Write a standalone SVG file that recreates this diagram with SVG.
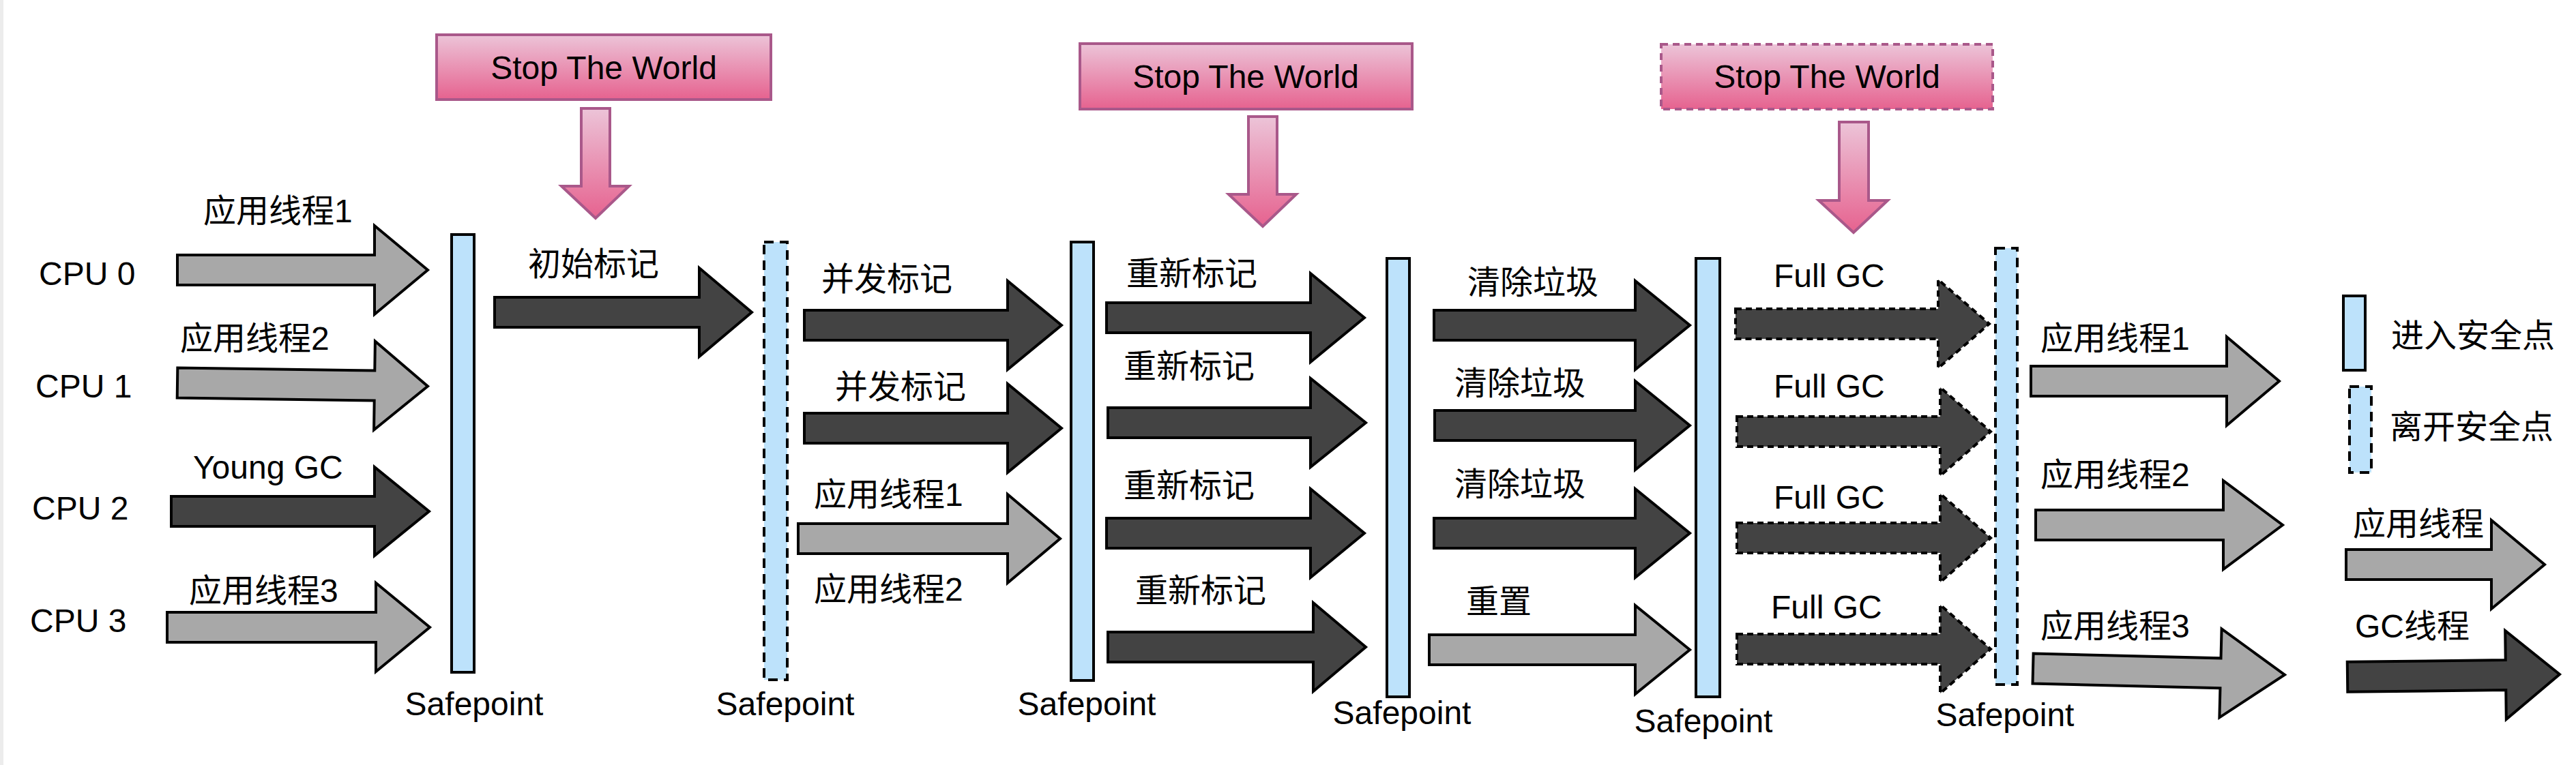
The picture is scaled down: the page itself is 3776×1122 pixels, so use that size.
<svg xmlns="http://www.w3.org/2000/svg" width="3776" height="1122" viewBox="0 0 3776 1122">
<defs>
<linearGradient id="pink" x1="0" y1="0" x2="0" y2="1">
<stop offset="0" stop-color="#ecc4d8"/>
<stop offset="1" stop-color="#e6628f"/>
</linearGradient>
<style>
.t{font-family:"Liberation Sans","Noto Sans CJK SC",sans-serif;font-size:48px;fill:#000}
.c{text-anchor:middle}
.stw{fill:url(#pink);stroke:#a9588a;stroke-width:4}
.dot{stroke-dasharray:10 7}
.g{fill:#a8a8a8;stroke:#000;stroke-width:4;stroke-linejoin:miter}
.d{fill:#434343;stroke:#000;stroke-width:4;stroke-linejoin:miter}
.ds{stroke-dasharray:9 6}
.bar{fill:#bde2fb;stroke:#000;stroke-width:4}
.bd{stroke-dasharray:14 9}
</style>
</defs>
<rect x="0" y="0" width="3776" height="1122" fill="#fff"/>
<rect x="0" y="0" width="5" height="1122" fill="#ececec"/>

<g id="stw1"><rect class="stw" x="640" y="51" width="490" height="95"/><text class="t c" x="885" y="116">Stop The World</text></g>
<g id="stw2"><rect class="stw" x="1583" y="64" width="487" height="96"/><text class="t c" x="1826" y="129">Stop The World</text></g>
<g id="stw3"><rect class="stw dot" x="2435" y="65" width="486" height="95"/><text class="t c" x="2678" y="129">Stop The World</text></g>

<g id="cpu-labels">
<text class="t" x="57" y="418">CPU 0</text>
<text class="t" x="52" y="583">CPU 1</text>
<text class="t" x="47" y="762">CPU 2</text>
<text class="t" x="44" y="927">CPU 3</text>
</g>

<g id="safepoints">
<g id="sp1"><rect class="bar" x="662" y="344" width="33" height="642"/><text class="t c" x="695" y="1049">Safepoint</text></g>
<g id="sp2"><rect class="bar bd" x="1120" y="355" width="34" height="642"/><text class="t c" x="1151" y="1049">Safepoint</text></g>
<g id="sp3"><rect class="bar" x="1570" y="355" width="33" height="643"/><text class="t c" x="1593" y="1049">Safepoint</text></g>
<g id="sp4"><rect class="bar" x="2033" y="379" width="33" height="643"/><text class="t c" x="2055" y="1062">Safepoint</text></g>
<g id="sp5"><rect class="bar" x="2486" y="379" width="35" height="643"/><text class="t c" x="2497" y="1074">Safepoint</text></g>
<g id="sp6"><rect class="bar bd" x="2925" y="364" width="32" height="640"/><text class="t c" x="2939" y="1065">Safepoint</text></g>
</g>

<g id="connectors">
<path class="stw" d="M852,159 H894 V273 H922 L873,320 L823,273 H852 Z"/>
<path class="stw" d="M1830,171 H1872 V285 H1900 L1851,332 L1801,285 H1830 Z"/>
<path class="stw" d="M2696,179 H2739 V294 H2767 L2717,341 L2666,294 H2696 Z"/>

<path class="g" d="M260,374 H549 V331 L627,396 L549,461 V418 H260 Z"/>
<path class="d" d="M725,436 H1025 V393 L1102,458 L1025,523 V480 H725 Z"/>
<path class="g" transform="rotate(0.8 443 564)" d="M260,542 H549 V499 L627,564 L549,629 V586 H260 Z"/>
<path class="d" d="M251,728 H549 V685 L629,750 L549,815 V772 H251 Z"/>
<path class="g" d="M245,898 H551 V855 L630,920 L551,985 V942 H245 Z"/>

<path class="d" d="M1179,455 H1477 V412 L1556,477 L1477,542 V499 H1179 Z"/>
<path class="d" d="M1179,606 H1477 V563 L1556,628 L1477,693 V650 H1179 Z"/>
<path class="g" d="M1170,768 H1477 V725 L1554,790 L1477,855 V812 H1170 Z"/>

<path class="d" d="M1622,444 H1921 V401 L2000,466 L1921,531 V488 H1622 Z"/>
<path class="d" d="M1624,598 H1921 V555 L2002,620 L1921,685 V642 H1624 Z"/>
<path class="d" d="M1622,760 H1921 V717 L2000,782 L1921,847 V804 H1622 Z"/>
<path class="d" d="M1624,927 H1925 V884 L2002,949 L1925,1014 V971 H1624 Z"/>

<path class="d" d="M2102,455 H2397 V412 L2477,477 L2397,542 V499 H2102 Z"/>
<path class="d" d="M2103,602 H2397 V559 L2477,624 L2397,689 V646 H2103 Z"/>
<path class="d" d="M2102,760 H2397 V717 L2477,782 L2397,847 V804 H2102 Z"/>
<path class="g" d="M2095,931 H2397 V888 L2477,953 L2397,1018 V975 H2095 Z"/>

<path class="d ds" d="M2544,453 H2841 V410 L2916,475 L2841,540 V497 H2544 Z"/>
<path class="d ds" d="M2546,611 H2844 V568 L2918,633 L2844,698 V655 H2546 Z"/>
<path class="d ds" d="M2546,767 H2844 V724 L2918,789 L2844,854 V811 H2546 Z"/>
<path class="d ds" d="M2546,930 H2844 V887 L2918,952 L2844,1017 V974 H2546 Z"/>

<path class="g" d="M2977,537 H3264 V494 L3341,559 L3264,624 V581 H2977 Z"/>
<path class="g" d="M2984,748 H3259 V705 L3346,770 L3259,835 V792 H2984 Z"/>
<path class="g" transform="rotate(1.4 3160 985)" d="M2980,963 H3255 V920 L3349,985 L3255,1050 V1007 H2980 Z"/>
</g>

<g id="labels">
<text class="t" x="298" y="326">应用线程1</text>
<text class="t" x="264" y="513">应用线程2</text>
<text class="t" x="283" y="702">Young GC</text>
<text class="t" x="277" y="883">应用线程3</text>
<text class="t" x="774" y="404">初始标记</text>
<text class="t" x="1204" y="426">并发标记</text>
<text class="t" x="1224" y="584">并发标记</text>
<text class="t" x="1193" y="742">应用线程1</text>
<text class="t" x="1193" y="881">应用线程2</text>
<text class="t" x="1651" y="418">重新标记</text>
<text class="t" x="1647" y="554">重新标记</text>
<text class="t" x="1647" y="729">重新标记</text>
<text class="t" x="1664" y="883">重新标记</text>
<text class="t" x="2151" y="431">清除垃圾</text>
<text class="t" x="2132" y="579">清除垃圾</text>
<text class="t" x="2132" y="727">清除垃圾</text>
<text class="t" x="2149" y="899">重置</text>
<text class="t" x="2600" y="421">Full GC</text>
<text class="t" x="2600" y="583">Full GC</text>
<text class="t" x="2600" y="746">Full GC</text>
<text class="t" x="2596" y="907">Full GC</text>
<text class="t" x="2991" y="513">应用线程1</text>
<text class="t" x="2991" y="713">应用线程2</text>
<text class="t" x="2991" y="935">应用线程3</text>
</g>

<g id="legend">
<g id="leg-enter"><rect class="bar" x="3435" y="434" width="32" height="109"/><text class="t" x="3505" y="509">进入安全点</text></g>
<g id="leg-leave"><rect class="bar bd" x="3444" y="567" width="32" height="126"/><text class="t" x="3503" y="643">离开安全点</text></g>
<g id="leg-app"><path class="g" d="M3439,806 H3652 V763 L3730,828 L3652,893 V850 H3439 Z"/><text class="t" x="3449" y="785">应用线程</text></g>
<g id="leg-gc"><path class="d" transform="rotate(-0.7 3590 991)" d="M3441,969 H3673 V926 L3752,991 L3673,1056 V1013 H3441 Z"/><text class="t" x="3452" y="935">GC线程</text></g>
</g>
</svg>
